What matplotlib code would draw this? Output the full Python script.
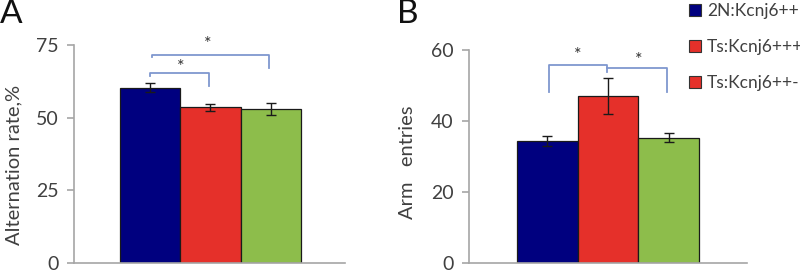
import matplotlib
matplotlib.use("Agg")
import matplotlib.pyplot as plt
from matplotlib.patches import Patch

groups = ["2N:Kcnj6++", "Ts:Kcnj6+++", "Ts:Kcnj6++-"]
bar_colors = ["#00007f", "#e5302a", "#8dbd4b"]
legend_colors = ["#00007f", "#e5302a", "#e5302a"]

alt_rate = [60.3, 53.5, 53.0]
alt_err = [1.5, 1.3, 2.0]
arm_entries = [34.4, 47.0, 35.3]
arm_err = [1.5, 5.0, 1.3]

FONT = "Lato"
plt.rcParams["font.family"] = [FONT, "DejaVu Sans"]
AXC = "#a6a6a6"
BRC = "#7f97cf"
TXT = "#404040"

fig = plt.figure(figsize=(8.0, 2.71), dpi=100)
axA = fig.add_axes([74/800, 8/271, 271/800, 218/271])
axB = fig.add_axes([469/800, 8/271, 278/800, 213/271])

x = [0, 1, 2]

def style(ax, ylim, yticks, xlim):
    ax.set_ylim(*ylim)
    ax.set_xlim(*xlim)
    ax.set_yticks(yticks)
    ax.set_xticks([])
    for s in ["top", "right"]:
        ax.spines[s].set_visible(False)
    for s in ["left", "bottom"]:
        ax.spines[s].set_color(AXC)
        ax.spines[s].set_linewidth(1.2)
    ax.tick_params(axis="y", colors=AXC, length=5, width=1.2, pad=6,
                   labelsize=14, labelcolor=TXT)
    ax.patch.set_alpha(0)

# Panel A
axA.bar(x, alt_rate, width=1.0, color=bar_colors, edgecolor="#1a1a1a",
        linewidth=0.9, zorder=2)
axA.errorbar(x, alt_rate, yerr=alt_err, fmt="none", ecolor="#1a1a1a",
             elinewidth=1.0, capsize=3.5, capthick=1.0, zorder=3)
style(axA, (0, 75), [0, 25, 50, 75], (-1.26, 3.23))
axA.set_ylabel("Alternation rate,%", fontsize=14.5, color=TXT)
axA.yaxis.set_label_coords(-0.19, 0.45)

axA.plot([0.0, 0.0, 0.98, 0.98], [64.3, 65.5, 65.5, 60.9], color=BRC,
         lw=1.3, clip_on=False, zorder=4)
axA.plot([0.03, 0.03, 1.97, 1.97], [70.9, 71.6, 71.6, 67.1], color=BRC,
         lw=1.3, clip_on=False, zorder=4)
axA.text(0.5, 67.3, "*", ha="center", va="center", fontsize=13, color="#333333")
axA.text(0.95, 75.2, "*", ha="center", va="center", fontsize=13, color="#333333",
         clip_on=False)

# Panel B
axB.bar(x, arm_entries, width=1.0, color=bar_colors, edgecolor="#1a1a1a",
        linewidth=0.9, zorder=2)
axB.errorbar(x, arm_entries, yerr=arm_err, fmt="none", ecolor="#1a1a1a",
             elinewidth=1.0, capsize=3.5, capthick=1.0, zorder=3)
style(axB, (0, 60), [0, 20, 40, 60], (-1.29, 3.29))
axB.set_ylabel("Arm   entries", fontsize=14.5, color=TXT)
axB.yaxis.set_label_coords(-0.19, 0.475)

axB.plot([0.03, 0.03, 0.99, 0.99], [48.1, 55.8, 55.8, 53.9], color=BRC,
         lw=1.3, clip_on=False, zorder=4)
axB.plot([0.99, 1.97, 1.97], [54.9, 54.9, 48.1], color=BRC,
         lw=1.3, clip_on=False, zorder=4)
axB.text(0.5, 58.6, "*", ha="center", va="center", fontsize=13, color="#333333")
axB.text(1.51, 57.1, "*", ha="center", va="center", fontsize=13, color="#333333")

# Panel letters
fig.text(0.0, 1.005, "A", fontsize=24, ha="left", va="top", color="#111111")
fig.text(397/800, 1.005, "B", fontsize=24, ha="left", va="top", color="#111111")

# Legend
handles = [Patch(facecolor=c, edgecolor="#333333", linewidth=0.8) for c in legend_colors]
fig.legend(handles, groups, loc="upper left", bbox_to_anchor=(682/800, 1.015),
           frameon=False, fontsize=12.5, handlelength=0.7, handleheight=0.7,
           handletextpad=0.35, labelspacing=1.15, borderaxespad=0,
           labelcolor=TXT)

fig.savefig("out.png", dpi=100)
